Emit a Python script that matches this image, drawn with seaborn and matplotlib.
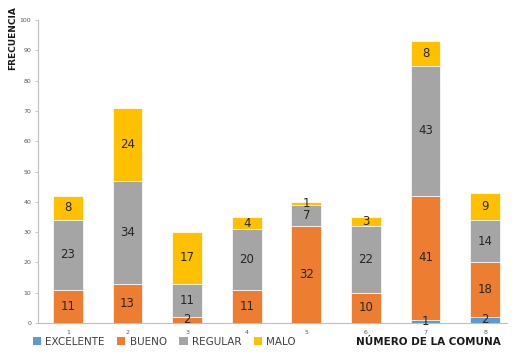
import matplotlib
matplotlib.use("Agg")
import matplotlib.pyplot as plt
import seaborn as sns
import numpy as np
import pandas as pd
from matplotlib.patches import Patch

comunas = ["1", "2", "3", "4", "5", "6", "7", "8"]
excelente = [0, 0, 0, 0, 0, 0, 1, 2]
bueno = [11, 13, 2, 11, 32, 10, 41, 18]
regular = [23, 34, 11, 20, 7, 22, 43, 14]
malo = [8, 24, 17, 4, 1, 3, 8, 9]
series_names = ["EXCELENTE", "BUENO", "REGULAR", "MALO"]
colors = ["#5B9BD5", "#ED7D31", "#A5A5A5", "#FFC000"]
yticks = list(range(0, 101, 10))

sns.set_style("white")
fig = plt.figure(figsize=(5.16, 3.6), dpi=100)
ax = fig.add_axes([0.074, 0.103, 0.909, 0.841])

bottom = np.zeros(len(comunas))
for name, vals, col in zip(series_names, [excelente, bueno, regular, malo], colors):
    df = pd.DataFrame({"comuna": comunas, "valor": vals})
    sns.barplot(data=df, x="comuna", y="valor", order=comunas, bottom=bottom,
                color=col, width=0.5, ax=ax, saturation=1, linewidth=0.5,
                edgecolor="white", errorbar=None)
    for i, v in enumerate(vals):
        if v > 0:
            ax.text(i, bottom[i] + v / 2, str(v), ha="center", va="center",
                    fontsize=8.5, color="#262626")
    bottom = bottom + np.array(vals)

ax.set_xlim(-0.5, 7.37)
ax.set_ylim(0, 100)
ax.set_yticks(yticks)
ax.tick_params(axis="y", labelsize=4.5, labelcolor="#595959", length=2, width=0.6,
               color="#BFBFBF", left=True, pad=3)
ax.tick_params(axis="x", labelsize=4.5, labelcolor="#595959", length=0, pad=5)
ax.set_xlabel("")
ax.set_ylabel("")
for s in ["top", "right"]:
    ax.spines[s].set_visible(False)
for s in ["left", "bottom"]:
    ax.spines[s].set_color("#BFBFBF")
    ax.spines[s].set_linewidth(0.8)

handles = [Patch(facecolor=c, edgecolor="none") for c in colors]
fig.legend(handles, series_names, loc="center left", bbox_to_anchor=(0.045, 0.05),
           ncol=4, frameon=False, fontsize=7.5, handlelength=0.8, handleheight=0.8,
           handletextpad=0.4, columnspacing=1.2, labelcolor="#404040")
fig.text(0.83, 0.05, "NÚMERO DE LA COMUNA", ha="center", va="center",
         fontsize=7.5, fontweight="bold", color="#1a1a1a")
fig.text(0.025, 0.895, "FRECUENCIA", rotation=90, ha="center", va="center",
         fontsize=6.5, fontweight="bold", color="#1a1a1a")

fig.savefig("out.png", dpi=100)
